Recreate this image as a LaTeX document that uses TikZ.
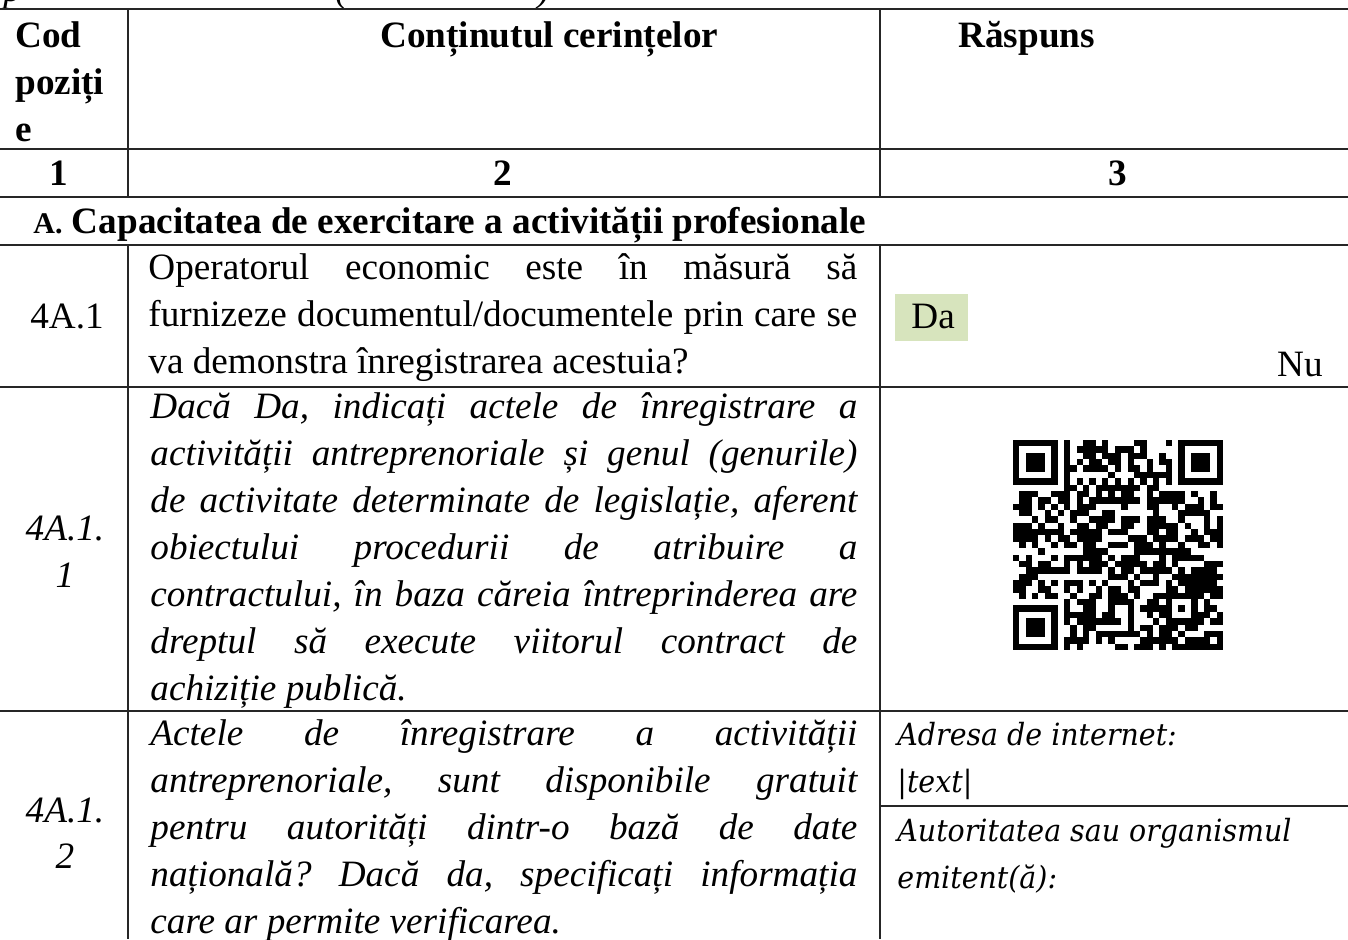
\documentclass[tikz,border=0pt]{standalone}
\usepackage{fontspec}
\setmainfont{Liberation Serif}
\newfontfamily\dvserif[FakeStretch=0.93]{DejaVu Serif}
\usepackage{tikz}
\usepackage{xcolor}
\definecolor{dagreen}{HTML}{D7E4BD}
\frenchspacing
% one justified line of a cell
\newcommand{\jl}[1]{\hbox to\linewidth{#1}}
% QR code placement (pixels) and module size
\newcommand{\qrx}{1013}
\newcommand{\qry}{440}
\newcommand{\qm}{6.364}

\begin{document}
\begin{tikzpicture}[x=0.5pt, y=-0.5pt,
    rule/.style={line width=0.75pt, black!85},
    txt/.style={inner sep=0pt, anchor=base west, font=\fontsize{18.6}{23.5}\selectfont},
    itxt/.style={txt, font=\fontsize{18.6}{23.5}\selectfont\itshape},
    hdr/.style={txt, font=\fontsize{18.6}{23.5}\selectfont\bfseries},
    dvtxt/.style={inner sep=0pt, anchor=base west, font=\dvserif\itshape\fontsize{15.3}{23.5}\selectfont}]
    \useasboundingbox (0,0) rectangle (1348,939);
    \clip (0,0) rectangle (1348,939);

    % Remains of the line above the table
    \node[itxt] (topp) at (3,1) {p};
    \node[itxt] (topl) at (335,1) {(};
    \node[itxt] (topr) at (537,1) {)};

    % Horizontal rules
    \draw[rule] (0,9) -- (1348,9);
    \draw[rule] (0,149) -- (1348,149);
    \draw[rule] (0,197) -- (1348,197);
    \draw[rule] (0,245) -- (1348,245);
    \draw[rule] (0,387) -- (1348,387);
    \draw[rule] (0,711) -- (1348,711);
    \draw[rule] (880,806) -- (1348,806);
    % Vertical rules (the section row is merged)
    \draw[rule] (128,9) -- (128,197);
    \draw[rule] (128,245) -- (128,939);
    \draw[rule] (880,9) -- (880,197);
    \draw[rule] (880,245) -- (880,939);

    % Header row
    \node[hdr] (cod) at (15,47) {Cod};
    \node[hdr] (pozi) at (15,94) {poziți};
    \node[hdr] (poze) at (15,141) {e};
    \node[hdr] (cont) at (380,47) {Conținutul cerințelor};
    \node[hdr] (rasp) at (958,47) {Răspuns};
    % Column numbers
    \node[hdr, anchor=base] (nr1) at (59,185) {1};
    \node[hdr, anchor=base] (nr2) at (503,185) {2};
    \node[hdr, anchor=base] (nr3) at (1118,185) {3};
    % Section title
    \node[hdr] (secA) at (33,233) {{\fontsize{15}{17}\selectfont A.} Capacitatea de exercitare a activității profesionale};

    % Row 4A.1
    \node[txt, anchor=base] (k41) at (67,328) {4A.1};
    \node[txt] (q41) at (148,279) {\parbox[t]{354.5pt}{%
        \jl{Operatorul economic este în măsură să}%
        \jl{furnizeze documentul/documentele prin care se}%
        va demonstra înregistrarea acestuia?}};
    \fill[dagreen] (895,294) rectangle (968,341);
    \node[txt] (da) at (911,328) {Da};
    \node[txt, anchor=base east] (nu) at (1323,376) {Nu};

    % Row 4A.1.1
    \node[itxt, anchor=base] (k411) at (65,540) {4A.1.};
    \node[itxt, anchor=base] (k411b) at (65,587) {1};
    \node[itxt] (q411) at (150,418) {\parbox[t]{353.5pt}{%
        \jl{Dacă Da, indicați actele de înregistrare a}%
        \jl{activității antreprenoriale și genul (genurile)}%
        \jl{de activitate determinate de legislație, aferent}%
        \jl{obiectului procedurii de atribuire a}%
        \jl{contractului, în baza căreia întreprinderea are}%
        \jl{dreptul să execute viitorul contract de}%
        achiziție publică.}};

    % QR code: finder patterns
    \foreach \fr/\fc in {0/0, 0/26, 26/0} {
        \fill (\qrx+\fc*\qm, \qry+\fr*\qm) rectangle ++(7*\qm, 7*\qm);
        \fill[white] (\qrx+\fc*\qm+\qm, \qry+\fr*\qm+\qm) rectangle ++(5*\qm, 5*\qm);
        \fill (\qrx+\fc*\qm+2*\qm, \qry+\fr*\qm+2*\qm) rectangle ++(3*\qm, 3*\qm);
    }
    % alignment pattern
    \fill (\qrx+24*\qm, \qry+24*\qm) rectangle ++(5*\qm, 5*\qm);
    \fill[white] (\qrx+25*\qm, \qry+25*\qm) rectangle ++(3*\qm, 3*\qm);
    \fill (\qrx+26*\qm, \qry+26*\qm) rectangle ++(\qm, \qm);
    % timing patterns
    \foreach \t in {8,10,...,24} {
        \fill (\qrx+\t*\qm, \qry+6*\qm) rectangle ++(\qm, \qm);
        \fill (\qrx+6*\qm, \qry+\t*\qm) rectangle ++(\qm, \qm);
    }
    % data modules
    \pgfmathsetseed{11}
    \foreach \r in {0,...,32} {
        \foreach \c in {0,...,32} {
            \pgfmathtruncatemacro{\busy}{(\r<8 && \c<8) || (\r<8 && \c>24) || (\r>24 && \c<8) || \r==6 || \c==6 || (\r>23 && \r<29 && \c>23 && \c<29)}
            \pgfmathtruncatemacro{\dark}{rnd<0.55}
            \ifnum\busy=0 \ifnum\dark=1
                \fill (\qrx+\c*\qm, \qry+\r*\qm) rectangle ++(\qm, \qm);
            \fi\fi
        }
    }

    % Row 4A.1.2
    \node[itxt, anchor=base] (k412) at (65,822) {4A.1.};
    \node[itxt, anchor=base] (k412b) at (65,868) {2};
    \node[itxt] (q412) at (150,745) {\parbox[t]{353.5pt}{%
        \jl{Actele de înregistrare a activității}%
        \jl{antreprenoriale, sunt disponibile gratuit}%
        \jl{pentru autorități dintr-o bază de date}%
        \jl{națională? Dacă da, specificați informația}%
        care ar permite verificarea.}};
    \node[dvtxt] (adr) at (897,745) {Adresa de internet:};
    \node[dvtxt] (adrt) at (897,792) {|text|};
    \node[dvtxt] (aut) at (897,841) {Autoritatea sau organismul};
    \node[dvtxt] (emit) at (897,888) {emitent(ă):};
\end{tikzpicture}
\end{document}
